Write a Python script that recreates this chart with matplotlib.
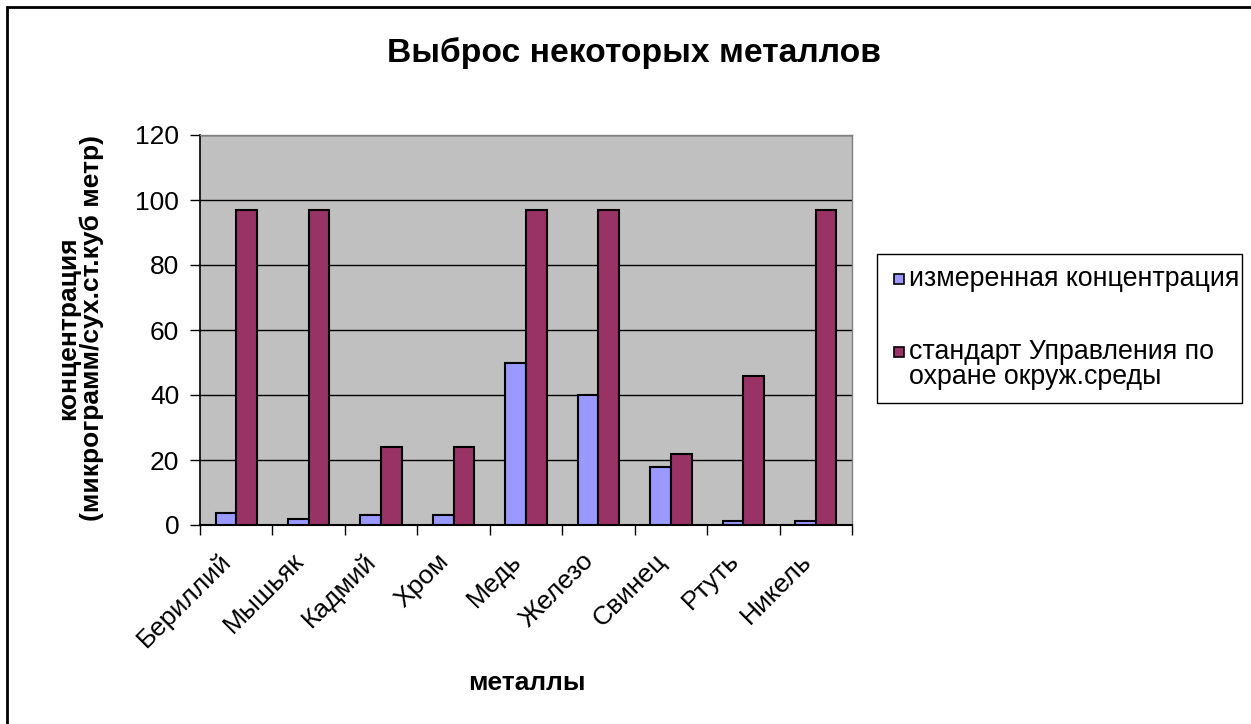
import numpy as np
import matplotlib
matplotlib.use('Agg')
import matplotlib.pyplot as plt
from matplotlib.patches import Rectangle
from matplotlib.transforms import ScaledTranslation

plt.rcParams['font.family'] = ['Liberation Sans', 'DejaVu Sans']

# Data
metals = ['Бериллий', 'Мышьяк', 'Кадмий', 'Хром', 'Медь',
          'Железо', 'Свинец', 'Ртуть', 'Никель']
measured = [3.8, 1.7, 3.1, 3.1, 50, 40, 18, 1.2, 1.2]
epa_standard = [97, 97, 24, 24, 97, 97, 22, 46, 97]
series_names = ['измеренная концентрация',
                'стандарт Управления по\nохране окруж.среды']
y_ticks = [0, 20, 40, 60, 80, 100, 120]

blue = '#9999FF'
plum = '#993366'

W, H = 1251, 724
fig = plt.figure(figsize=(W / 100, H / 100), dpi=100)

def fx(px):
    return px / W

def fy(py):
    return 1 - py / H

# outer chart border (right/bottom edges are cut off in the reference)
fig.patches.append(Rectangle((fx(7), -0.05), 1.1, fy(7) + 0.05,
                             transform=fig.transFigure, fill=False,
                             edgecolor='black', linewidth=2))

ax = fig.add_axes([fx(200), fy(525), fx(852) - fx(200), fy(135) - fy(525)])
ax.set_facecolor('#C0C0C0')

x = np.arange(len(metals))
w = 1 / 3.5  # Excel gap width 150%
ax.bar(x - w / 2, measured, w, color=blue, edgecolor='black', linewidth=1.5, zorder=3)
ax.bar(x + w / 2, epa_standard, w, color=plum, edgecolor='black', linewidth=1.5, zorder=3)

ax.set_xlim(-0.5, len(metals) - 0.5)
ax.set_ylim(0, 120)
ax.set_yticks(y_ticks)
ax.yaxis.grid(True, color='black', linewidth=1, zorder=1)
ax.set_axisbelow(True)

# ticks between categories, labels at category centres
ax.set_xticks(np.arange(len(metals) + 1) - 0.5)
ax.set_xticklabels([])
ax.set_xticks(x, minor=True)
ax.set_xticklabels(metals, minor=True, rotation=45, ha='right', va='top',
                   fontsize=19)
shift = ScaledTranslation(-13 / 100, 0, fig.dpi_scale_trans)
for lbl in ax.get_xticklabels(minor=True):
    lbl.set_transform(lbl.get_transform() + shift)
ax.tick_params(axis='x', which='minor', length=0, pad=17)
ax.tick_params(axis='x', which='major', length=7, width=1, direction='out')
ax.tick_params(axis='y', length=7, width=1, direction='out', pad=8, labelsize=19)

for s in ['top', 'right']:
    ax.spines[s].set_color('#808080')
    ax.spines[s].set_linewidth(1)
ax.spines['left'].set_linewidth(1.2)
ax.spines['bottom'].set_linewidth(1.5)

fig.text(fx(634), fy(53), 'Выброс некоторых металлов', ha='center', va='center',
         fontsize=24.2, fontweight='bold')
fig.text(fx(527), fy(683), 'металлы', ha='center', va='center',
         fontsize=19, fontweight='bold')
fig.text(fx(80), fy(328), 'концентрация\n(микрограмм/сух.ст.куб метр)',
         ha='center', va='center', rotation=90, fontsize=19,
         fontweight='bold', linespacing=1.0, multialignment='center')

# legend box, drawn by hand to match Excel's layout
fig.patches.append(Rectangle((fx(877), fy(403)), fx(1242) - fx(877), fy(254) - fy(403),
                             transform=fig.transFigure, facecolor='white',
                             edgecolor='black', linewidth=1))
for name, col, yc in zip(series_names, [blue, plum], [279, 352]):
    fig.patches.append(Rectangle((fx(894), fy(yc + 5)), fx(10), 10 / H,
                                 transform=fig.transFigure, facecolor=col,
                                 edgecolor='black', linewidth=1.2))
    for i, line in enumerate(name.split('\n')):
        fig.text(fx(909), fy(yc + 25 * i), line, ha='left', va='center',
                 fontsize=19.3)

fig.savefig('out.png', dpi=100)
